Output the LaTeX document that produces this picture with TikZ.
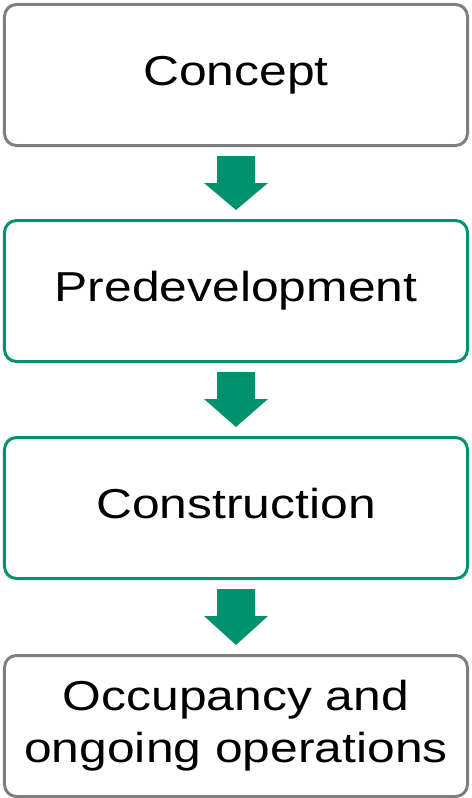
\documentclass[tikz,border=0pt]{standalone}
\usepackage{fontspec}
\setmainfont{Liberation Sans}
\usepackage{graphicx}
\usetikzlibrary{positioning,calc}

\definecolor{stagegreen}{RGB}{0,146,111}
\definecolor{stagegray}{RGB}{127,127,127}

\newcommand{\stagetext}[1]{\scalebox{1.19}[1]{\begin{tabular}{@{}c@{}}#1\end{tabular}}}

\tikzset{
  stage/.style={draw=#1,line width=3bp,rounded corners=12bp,fill=white,
    minimum width=463bp,minimum height=141bp,inner sep=0pt,
    font=\fontsize{42}{53}\selectfont},
  flow/.style={fill=stagegreen}
}

% block arrow between two stages
\newcommand{\flowarrow}[2]{%
  \fill[flow] ($(#1.south)+(-19,9)$) -- ($(#1.south)+(19,9)$)
    -- ($(#1.south)+(19,36)$) -- ($(#1.south)+(32,36)$)
    -- ($(#2.north)+(0,-9)$)
    -- ($(#1.south)+(-32,36)$) -- ($(#1.south)+(-19,36)$) -- cycle;
}

\begin{document}
\begin{tikzpicture}[x=1bp,y=-1bp]
    \useasboundingbox (0,0) rectangle (472,798);

    % --- Stages ---
    \node[stage=stagegray] (concept) at (236,75) {\stagetext{Concept}};
    \node[stage=stagegreen,below=72bp of concept] (predev) {\stagetext{Predevelopment}};
    \node[stage=stagegreen,below=73bp of predev] (constr) {\stagetext{Construction}};
    \node[stage=stagegray,below=74bp of constr] (occup)
      {\stagetext{Occupancy and\\ongoing operations}};

    % --- Arrows ---
    \flowarrow{concept}{predev}
    \flowarrow{predev}{constr}
    \flowarrow{constr}{occup}

  \end{tikzpicture}
\end{document}
